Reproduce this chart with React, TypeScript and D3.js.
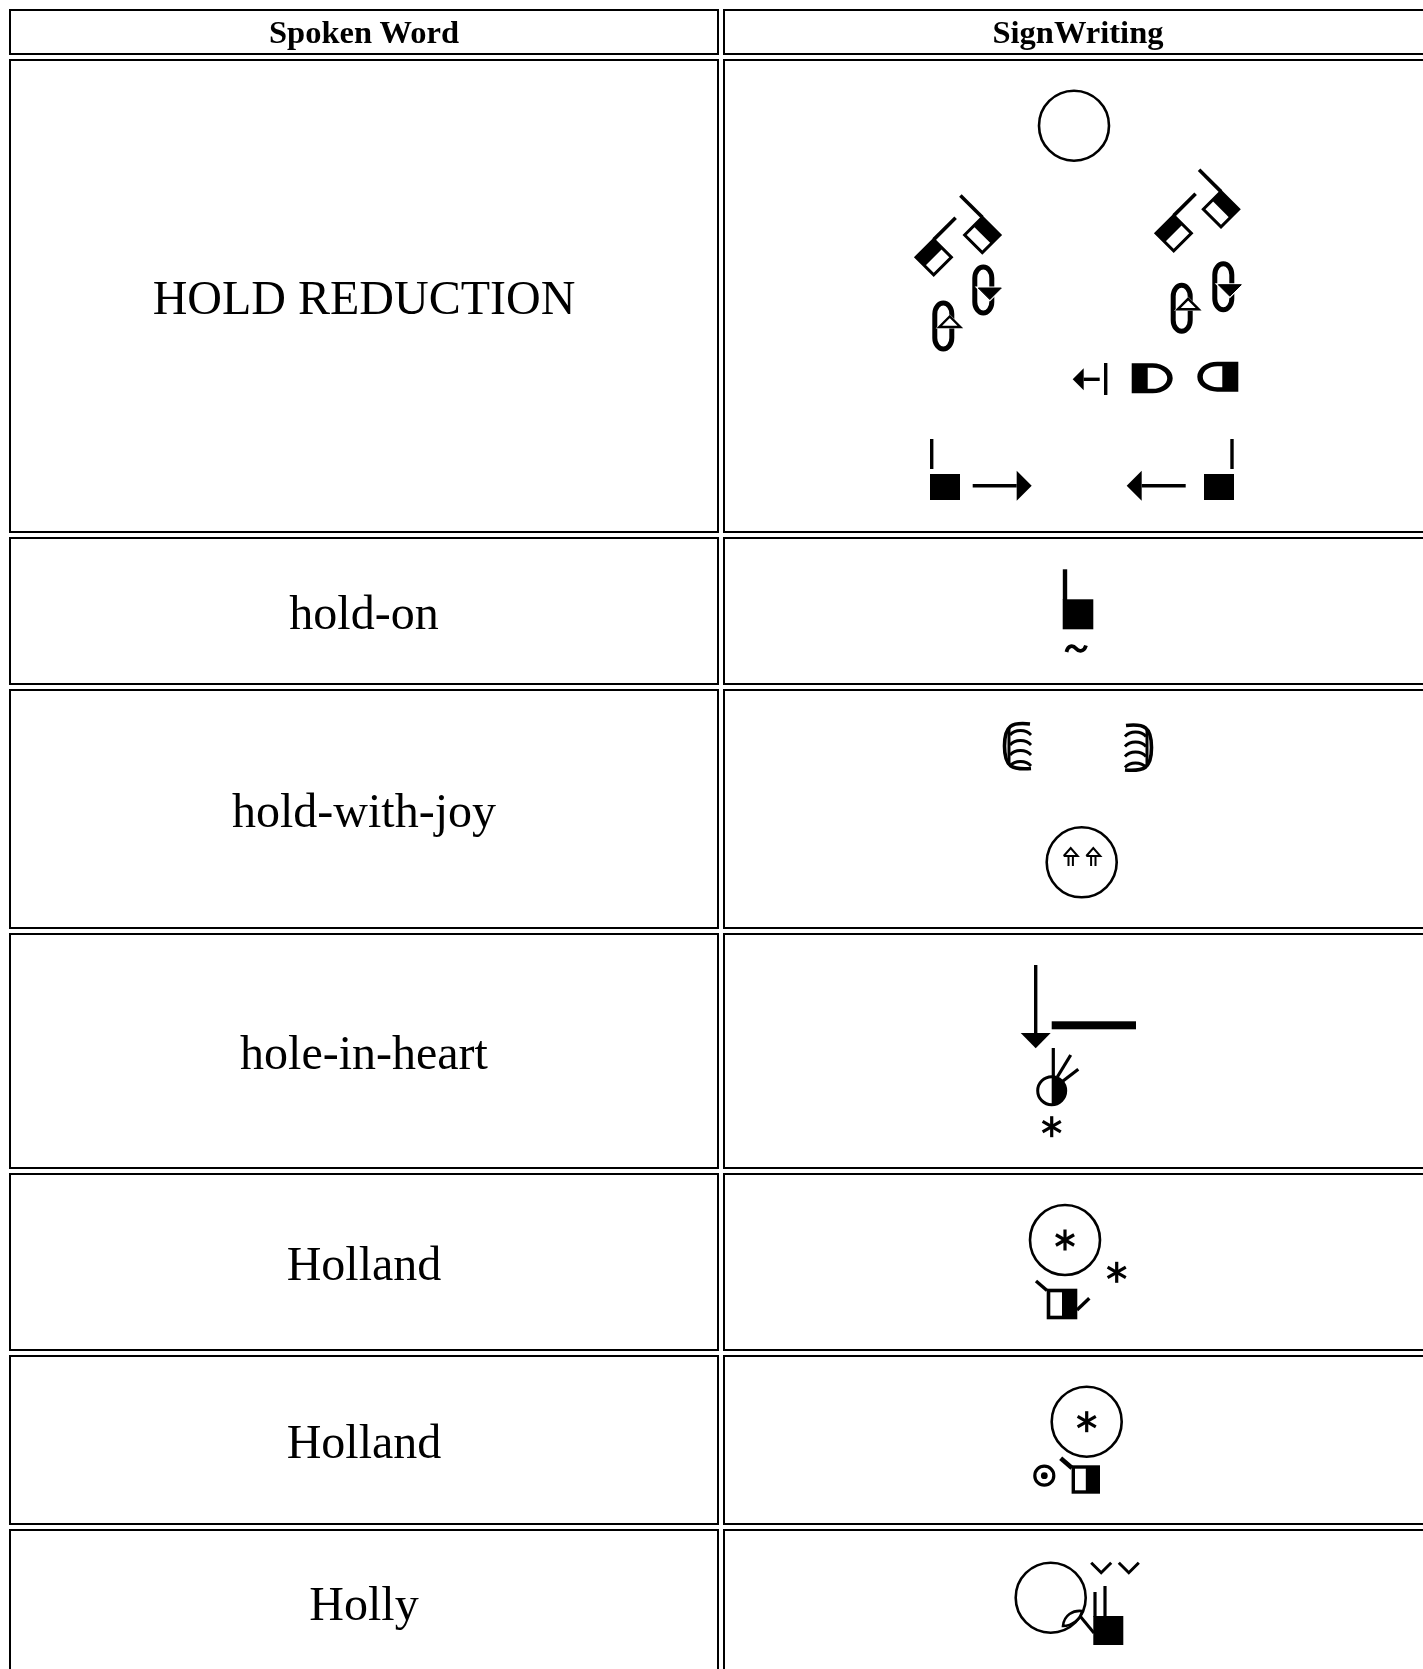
import * as d3 from "d3";

const columnHeaders = ["Spoken Word", "SignWriting"];
const spokenWords = [
  "HOLD REDUCTION",
  "hold-on",
  "hold-with-joy",
  "hole-in-heart",
  "Holland",
  "Holland",
  "Holly",
];
const rowHeights = [46, 474, 148, 240, 236, 178, 170, 146];

const WIDTH = 1423;
const HEIGHT = 1669;
const TABLE_TOP = 9;
const ROW_GAP = 4;
const COLS = [
  { x: 9, w: 710 },
  { x: 723, w: 710 },
];
const HEADER_SIZE = 32.5;
const WORD_SIZE = 48;
const TEXT_NUDGE = 1.5;
const FONT = '"Liberation Serif", "Times New Roman", serif';

const line = d3.line();
const poly = (pts: [number, number][]) => line(pts) + "Z";

// top of every row, from the heights + the cell spacing
const rowTops = [0, ...d3.cumsum(rowHeights, (h) => h + ROW_GAP)].map((v) => v + TABLE_TOP);

// hand square with a stem on the top-left corner, local origin is the centre
function Palm({
  x,
  y,
  size = 25,
  border = 3,
  rotate = 0,
  flip = false,
  stem = 31,
}: {
  x: number;
  y: number;
  size?: number;
  border?: number;
  rotate?: number;
  flip?: boolean;
  stem?: number;
}) {
  const h = size / 2;
  return (
    <g transform={`translate(${x},${y}) rotate(${rotate}) scale(${flip ? -1 : 1},1)`}>
      <rect x={-h} y={-h} width={size} height={size} fill="#fff" stroke="#000" strokeWidth={border} />
      <rect x={-h} y={-h} width={h} height={size} fill="#000" />
      {stem > 0 && (
        <path d={line([[-h, -h], [-h, -h - stem]])!} stroke="#000" strokeWidth={3.6} fill="none" />
      )}
    </g>
  );
}

// movement oval, straight sided, with the arrow head cut into its right side
function Oval({ x, y, up }: { x: number; y: number; up: boolean }) {
  const tri: [number, number][] = up
    ? [[-4, 1], [17, 1], [6.5, -9.5]]
    : [[-5, -2], [18, -2], [6.5, 9.5]];
  return (
    <g transform={`translate(${x},${y})`}>
      <rect x={-8.5} y={-23} width={17} height={46} rx={8.5} ry={11} fill="none" stroke="#000" strokeWidth={5} />
      <path d={poly(tri)} fill="#fff" stroke="#fff" strokeWidth={3} />
      <path d={poly(tri)} fill={up ? "#fff" : "#000"} stroke="#000" strokeWidth={up ? 2.4 : 1} />
    </g>
  );
}

function Ring({ x, y, r = 35 }: { x: number; y: number; r?: number }) {
  return <circle cx={x} cy={y} r={r} fill="none" stroke="#000" strokeWidth={2.6} />;
}

function Star({ x, y, r = 10.5 }: { x: number; y: number; r?: number }) {
  return (
    <g transform={`translate(${x},${y})`} stroke="#000" strokeWidth={3.2}>
      {d3.range(3).map((i) => (
        <line key={i} x1={0} y1={-r} x2={0} y2={r} transform={`rotate(${i * 60})`} />
      ))}
    </g>
  );
}

// horizontal arrow: tip, shaft length, dir = 1 points right
function Arrow({ x, y, dir, head = 15, halfH = 15, shaft }: { x: number; y: number; dir: 1 | -1; head?: number; halfH?: number; shaft: number }) {
  return (
    <g transform={`translate(${x},${y}) scale(${dir},1)`}>
      <path d={poly([[0, 0], [-head, -halfH], [-head, halfH]])} fill="#000" />
      <path d={line([[-head, 0], [-head - shaft, 0]])!} stroke="#000" strokeWidth={3.4} />
    </g>
  );
}

function HalfD({ x, y, flip }: { x: number; y: number; flip?: boolean }) {
  const d = "M0,0 H21 A20,15 0 0 1 21,30 H0 Z M16,4.5 V25.5 H21 A14.5,10.5 0 0 0 21,4.5 Z";
  return (
    <g transform={`translate(${x},${y}) scale(${flip ? -1 : 1},1)`}>
      <path d={d} fill="#000" fillRule="evenodd" />
    </g>
  );
}

function Fingers({ x, y, flip }: { x: number; y: number; flip?: boolean }) {
  const prongs = [13, 23, 33, 44];
  return (
    <g transform={`translate(${x},${y}) scale(${flip ? -1 : 1},1)`} fill="none" stroke="#000">
      <path d="M28,2 C10,0 2.5,3 2.5,24 C2.5,45 10,48 29,46.5" strokeWidth={3.6} />
      <path d={line([[7, 6], [7, 43]])!} strokeWidth={3} />
      {prongs.map((p) => (
        <path key={p} d={`M8,${p} C13,${p - 6} 24,${p - 6} 29,${p}`} strokeWidth={2.8} />
      ))}
    </g>
  );
}

function UpArrow({ x, y }: { x: number; y: number }) {
  return (
    <g transform={`translate(${x},${y})`} fill="none" stroke="#000" strokeWidth={2}>
      <path d={line([[-7, 0], [0, -8], [7, 0], [-7, 0]])!} />
      <path d="M-2.2,0 V10 M2.2,0 V10" />
    </g>
  );
}

function Chevron({ x, y }: { x: number; y: number }) {
  return (
    <path
      d={line([[x - 10, y - 5], [x, y + 5], [x + 10, y - 5]])!}
      fill="none"
      stroke="#000"
      strokeWidth={3}
    />
  );
}

function Glyphs() {
  return (
    <g filter="url(#soft)">
      {/* HOLD REDUCTION */}
      <Ring x={1074} y={125.7} />
      <Palm x={933.7} y={257.3} rotate={45} />
      <Palm x={982.3} y={235} rotate={-45} flip />
      <Palm x={1173.7} y={233.3} rotate={45} />
      <Palm x={1221} y={209.3} rotate={-45} flip />
      <Oval x={943.3} y={326} up />
      <Oval x={983.3} y={290} up={false} />
      <Oval x={1181.7} y={308.3} up />
      <Oval x={1223.3} y={286.7} up={false} />
      <Arrow x={1072.7} y={379.3} dir={-1} head={11} halfH={11} shaft={16} />
      <path d={line([[1105.7, 363], [1105.7, 395]])!} stroke="#000" strokeWidth={3.4} />
      <HalfD x={1131.7} y={363.3} />
      <HalfD x={1238.3} y={361.7} flip />
      <rect x={930} y={474} width={30} height={26} fill="#000" />
      <path d={line([[931.7, 439], [931.7, 469]])!} stroke="#000" strokeWidth={3.4} />
      <Arrow x={1031.7} y={485.7} dir={1} shaft={44} />
      <rect x={1204} y={474} width={30} height={26} fill="#000" />
      <path d={line([[1232, 439], [1232, 469]])!} stroke="#000" strokeWidth={3.4} />
      <Arrow x={1126.7} y={485.7} dir={-1} shaft={44} />

      {/* hold-on */}
      <rect x={1062.7} y={599.3} width={30.6} height={30} fill="#000" />
      <path d={line([[1065, 569.3], [1065, 600]])!} stroke="#000" strokeWidth={4.4} />
      <path d="M1066.5,652 C1068,645 1073,645 1076,648.5 C1079,652 1084,652 1086,645.5" fill="none" stroke="#000" strokeWidth={3.8} />

      {/* hold-with-joy */}
      <Fingers x={1002} y={722} />
      <Fingers x={1154} y={723.5} flip />
      <Ring x={1081.7} y={862.3} />
      <UpArrow x={1070.7} y={856} />
      <UpArrow x={1093.3} y={856} />

      {/* hole-in-heart */}
      <path d={line([[1035.7, 965], [1035.7, 1034]])!} stroke="#000" strokeWidth={3.4} />
      <path d={poly([[1035.7, 1048.3], [1020.7, 1033], [1050.7, 1033]])} fill="#000" />
      <rect x={1051.7} y={1021.3} width={84.3} height={8} fill="#000" />
      <circle cx={1051.7} cy={1090.7} r={14} fill="#fff" stroke="#000" strokeWidth={3} />
      <path d="M1051.7,1076.7 A14,14 0 0 1 1051.7,1104.7 Z" fill="#000" />
      <g stroke="#000" strokeWidth={3.2}>
        <path d={line([[1053.3, 1048], [1053.3, 1078]])!} />
        <path d={line([[1057.3, 1077], [1070.7, 1055]])!} />
        <path d={line([[1061.7, 1082], [1078.3, 1069.3]])!} />
      </g>
      <Star x={1051.7} y={1126.7} />

      {/* Holland */}
      <Ring x={1065} y={1240} />
      <Star x={1065} y={1240} />
      <Star x={1116.7} y={1272.3} />
      <g stroke="#000" strokeWidth={3.4}>
        <path d={line([[1047, 1290.5], [1036, 1281]])!} />
        <path d={line([[1077, 1310], [1089.3, 1298.3]])!} />
      </g>
      <Palm x={1062} y={1304} size={27} border={3.6} stem={0} flip />

      {/* Holland, second form */}
      <Ring x={1086.7} y={1421.7} />
      <Star x={1086.7} y={1421.7} />
      <circle cx={1044.3} cy={1475.7} r={9.5} fill="none" stroke="#000" strokeWidth={3.2} />
      <circle cx={1044.3} cy={1475.7} r={3.4} fill="#000" />
      <path d={line([[1060.7, 1458.3], [1072, 1468]])!} stroke="#000" strokeWidth={4.6} />
      <Palm x={1085.8} y={1479.5} size={25} border={3.4} stem={0} flip />

      {/* Holly */}
      <Ring x={1050.7} y={1597.7} />
      <path d="M1063,1626 C1064,1615 1073,1610 1082,1611 C1081,1619 1072,1626 1063,1626 Z" fill="#fff" stroke="#000" strokeWidth={2.6} />
      <path d={line([[1080, 1616], [1094, 1633]])!} stroke="#000" strokeWidth={3} />
      <rect x={1093.3} y={1616} width={30} height={29} fill="#000" />
      <g stroke="#000" strokeWidth={3.2}>
        <path d={line([[1095, 1592], [1095, 1617]])!} />
        <path d={line([[1105, 1586], [1105, 1617]])!} />
      </g>
      <Chevron x={1101.2} y={1567.7} />
      <Chevron x={1128.8} y={1567.7} />
    </g>
  );
}

export default function App() {
  return (
    <svg
      width={WIDTH}
      height={HEIGHT}
      viewBox={`0 0 ${WIDTH} ${HEIGHT}`}
      style={{ position: "absolute", left: 0, top: 0, display: "block", background: "#fff" }}
    >
      <defs>
        <filter id="soft" x="-5%" y="-5%" width="110%" height="110%">
          <feGaussianBlur stdDeviation={0.55} />
        </filter>
        <filter id="softText" x="-5%" y="-5%" width="110%" height="110%">
          <feGaussianBlur stdDeviation={0.3} />
        </filter>
      </defs>

      {/* table cells, the right column runs off the page */}
      {rowHeights.map((h, r) =>
        COLS.map((c, i) => (
          <rect
            key={`${r}-${i}`}
            x={c.x + 1}
            y={rowTops[r] + 1}
            width={i === 1 ? c.w + 40 : c.w - 2}
            height={r === rowHeights.length - 1 ? h + 20 : h - 2}
            fill="none"
            stroke="#000"
            strokeWidth={2}
          />
        )),
      )}

      <g filter="url(#softText)">
        {/* header row */}
        {columnHeaders.map((label, i) => (
          <text
            key={label}
            x={COLS[i].x + COLS[i].w / 2}
            y={rowTops[0] + rowHeights[0] / 2 + HEADER_SIZE * 0.3375}
            textAnchor="middle"
            fontFamily={FONT}
            fontSize={HEADER_SIZE}
            fontWeight="bold"
            fill="#000"
          >
            {label}
          </text>
        ))}

        {/* spoken words */}
        {spokenWords.map((word, i) => (
          <text
            key={i}
            x={COLS[0].x + COLS[0].w / 2}
            y={rowTops[i + 1] + rowHeights[i + 1] / 2 + WORD_SIZE * 0.3375 + TEXT_NUDGE}
            textAnchor="middle"
            fontFamily={FONT}
            fontSize={WORD_SIZE}
            fill="#000"
          >
            {word}
          </text>
        ))}
      </g>

      <Glyphs />
    </svg>
  );
}
